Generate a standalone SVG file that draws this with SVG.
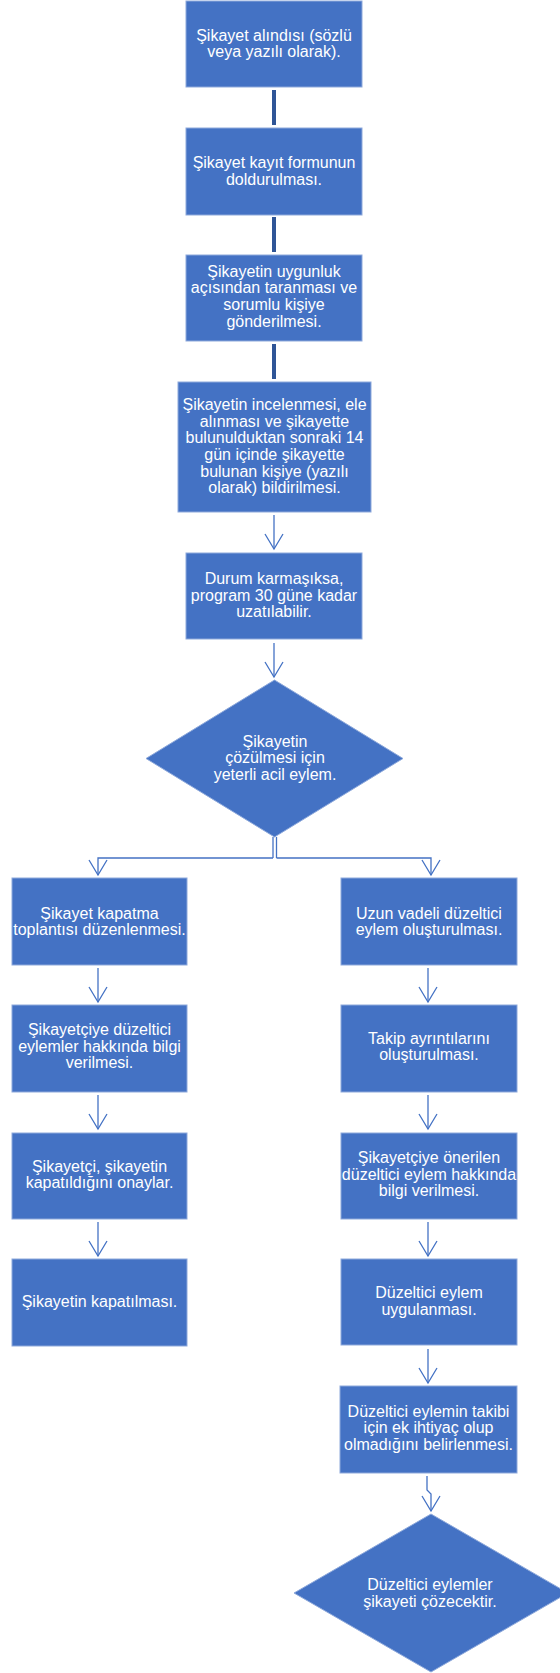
<svg xmlns="http://www.w3.org/2000/svg" width="560" height="1673" viewBox="0 0 560 1673">
<defs>
<marker id="arr" markerUnits="userSpaceOnUse" markerWidth="20" markerHeight="20" viewBox="-16 -10 17 20" refX="0" refY="0" orient="auto" overflow="visible">
<path d="M-15,-9 L0,0 L-15,9" fill="none" stroke="#4472C4" stroke-width="1.3"/>
</marker>
<style>
.n{fill:#4472C4;stroke:#8EA9DB;stroke-width:1}
.t{fill:#FFFFFF;font-family:"Liberation Sans",Arial,sans-serif;font-size:16px;text-anchor:middle}
.thick{stroke:#2F5597;stroke-width:4;fill:none}
.thin{stroke:#4472C4;stroke-width:1.3;fill:none}
</style>
</defs>
<rect width="560" height="1673" fill="#FFFFFF"/>
<g id="connectors">
<line class="thick" x1="274" y1="90" x2="274" y2="125"/>
<line class="thick" x1="274" y1="217" x2="274" y2="252"/>
<line class="thick" x1="274" y1="344" x2="274" y2="379"/>
<line class="thin" x1="274" y1="515" x2="274" y2="549" marker-end="url(#arr)"/>
<line class="thin" x1="274" y1="643" x2="274" y2="677" marker-end="url(#arr)"/>
<line class="thin" x1="273" y1="837" x2="273" y2="858"/>
<line class="thin" x1="276.5" y1="837" x2="276.5" y2="858"/>
<polyline class="thin" points="273,858 98,858 98,875" marker-end="url(#arr)"/>
<polyline class="thin" points="276.5,858 431,858 431,875" marker-end="url(#arr)"/>
<line class="thin" x1="98" y1="968" x2="98" y2="1002" marker-end="url(#arr)"/>
<line class="thin" x1="98" y1="1095" x2="98" y2="1129" marker-end="url(#arr)"/>
<line class="thin" x1="98" y1="1222" x2="98" y2="1256" marker-end="url(#arr)"/>
<line class="thin" x1="428" y1="968" x2="428" y2="1002" marker-end="url(#arr)"/>
<line class="thin" x1="428" y1="1095" x2="428" y2="1129" marker-end="url(#arr)"/>
<line class="thin" x1="428" y1="1222" x2="428" y2="1256" marker-end="url(#arr)"/>
<line class="thin" x1="428" y1="1349" x2="428" y2="1383" marker-end="url(#arr)"/>
<polyline class="thin" points="427,1476 427,1490 431,1494 431,1511" marker-end="url(#arr)"/>
</g>
<g id="n1"><rect class="n" x="186" y="1" width="176" height="86"/>
<text class="t" x="274" y="41">Şikayet alındısı (sözlü</text><text class="t" x="274" y="57">veya yazılı olarak).</text></g>
<g id="n2"><rect class="n" x="186" y="128" width="176" height="87"/>
<text class="t" x="274" y="168">Şikayet kayıt formunun</text><text class="t" x="274" y="185">doldurulması.</text></g>
<g id="n3"><rect class="n" x="186" y="255" width="176" height="86"/>
<text class="t" x="274" y="277">Şikayetin uygunluk</text><text class="t" x="274" y="293">açısından taranması ve</text><text class="t" x="274" y="310">sorumlu kişiye</text><text class="t" x="274" y="327">gönderilmesi.</text></g>
<g id="n4"><rect class="n" x="178" y="382" width="193" height="130"/>
<text class="t" x="274.5" y="410">Şikayetin incelenmesi, ele</text><text class="t" x="274.5" y="427">alınması ve  şikayette</text><text class="t" x="274.5" y="443">bulunulduktan sonraki 14</text><text class="t" x="274.5" y="460">gün içinde şikayette</text><text class="t" x="274.5" y="477">bulunan kişiye (yazılı</text><text class="t" x="274.5" y="493">olarak) bildirilmesi.</text></g>
<g id="n5"><rect class="n" x="186" y="553" width="176" height="86"/>
<text class="t" x="274" y="584">Durum karmaşıksa,</text><text class="t" x="274" y="601">program 30 güne kadar</text><text class="t" x="274" y="617">uzatılabilir.</text></g>
<g id="d1"><polygon class="n" points="274.5,680 403,758.5 274.5,837 146,758.5"/>
<text class="t" x="275" y="747">Şikayetin</text><text class="t" x="275" y="763">çözülmesi için</text><text class="t" x="275" y="780">yeterli acil eylem.</text></g>
<g id="l1"><rect class="n" x="12" y="878" width="175" height="87"/>
<text class="t" x="99.5" y="919">Şikayet kapatma</text><text class="t" x="99.5" y="935">toplantısı düzenlenmesi.</text></g>
<g id="l2"><rect class="n" x="12" y="1005" width="175" height="87"/>
<text class="t" x="99.5" y="1035">Şikayetçiye düzeltici</text><text class="t" x="99.5" y="1052">eylemler hakkında bilgi</text><text class="t" x="99.5" y="1068">verilmesi.</text></g>
<g id="l3"><rect class="n" x="12" y="1133" width="175" height="86"/>
<text class="t" x="99.5" y="1172">Şikayetçi, şikayetin</text><text class="t" x="99.5" y="1188">kapatıldığını onaylar.</text></g>
<g id="l4"><rect class="n" x="12" y="1259" width="175" height="87"/>
<text class="t" x="99.5" y="1307">Şikayetin kapatılması.</text></g>
<g id="r1"><rect class="n" x="341" y="878" width="176" height="87"/>
<text class="t" x="429" y="919">Uzun vadeli düzeltici</text><text class="t" x="429" y="935">eylem oluşturulması.</text></g>
<g id="r2"><rect class="n" x="341" y="1005" width="176" height="87"/>
<text class="t" x="429" y="1044">Takip ayrıntılarını</text><text class="t" x="429" y="1060">oluşturulması.</text></g>
<g id="r3"><rect class="n" x="341" y="1133" width="176" height="86"/>
<text class="t" x="429" y="1163">Şikayetçiye önerilen</text><text class="t" x="429" y="1180">düzeltici eylem hakkında</text><text class="t" x="429" y="1196">bilgi verilmesi.</text></g>
<g id="r4"><rect class="n" x="341" y="1259" width="176" height="86"/>
<text class="t" x="429" y="1298">Düzeltici eylem</text><text class="t" x="429" y="1315">uygulanması.</text></g>
<g id="r5"><rect class="n" x="340" y="1386" width="177" height="87"/>
<text class="t" x="428.5" y="1417">Düzeltici eylemin takibi</text><text class="t" x="428.5" y="1433">için ek ihtiyaç olup</text><text class="t" x="428.5" y="1450">olmadığını belirlenmesi.</text></g>
<g id="d2"><polygon class="n" points="431,1514 568,1593 431,1672 294,1593"/>
<text class="t" x="430" y="1590">Düzeltici eylemler</text><text class="t" x="430" y="1607">şikayeti çözecektir.</text></g>
</svg>
